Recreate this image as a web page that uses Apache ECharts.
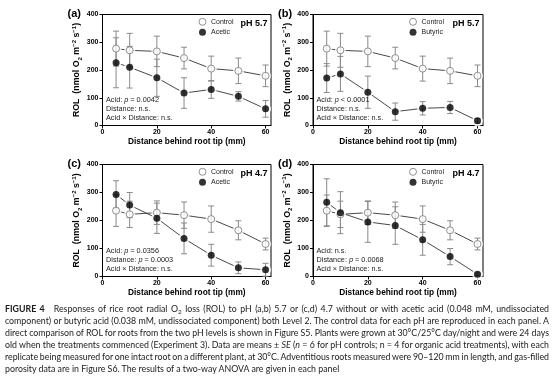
<!DOCTYPE html>
<html><head><meta charset="utf-8">
<script src="https://cdn.jsdelivr.net/npm/echarts@6/dist/echarts.min.js"></script>
<style>
html,body{margin:0;padding:0;background:#fff;}
#chart{position:absolute;left:0;top:0;width:554px;height:388px;}
#cap{position:absolute;left:5px;top:303px;width:544px;font-family:Lato,'Open Sans',sans-serif;font-size:8.8px;line-height:12px;color:#1a1a1a;}
#cap .ln{white-space:nowrap;height:12px;}
#cap .ln span.t{display:inline-block;white-space:nowrap;}
#cap sub{font-size:6.3px;vertical-align:-1.5px;line-height:0;}
#cap b{font-weight:700;}
</style></head><body>
<div id="chart"></div>
<div id="cap">
<div class="ln"><span class="t"><b>FIGURE 4</b><span style="display:inline-block;width:9px"></span>Responses of rice root radial O<sub>2</sub> loss (ROL) to pH (a,b) 5.7 or (c,d) 4.7 without or with acetic acid (0.048 mM, undissociated</span></div>
<div class="ln"><span class="t">component) or butyric acid (0.038 mM, undissociated component) both Level 2. The control data for each pH are reproduced in each panel. A</span></div>
<div class="ln"><span class="t">direct comparison of ROL for roots from the two pH levels is shown in Figure S5. Plants were grown at 30°C/25°C day/night and were 24 days</span></div>
<div class="ln"><span class="t">old when the treatments commenced (Experiment 3). Data are means ± <i>SE</i> (<i>n</i> = 6 for pH controls; n = 4 for organic acid treatments), with each</span></div>
<div class="ln"><span class="t">replicate being measured for one intact root on a different plant, at 30°C. Adventitious roots measured were 90–120 mm in length, and gas-filled</span></div>
<div class="ln last"><span class="t">porosity data are in Figure S6. The results of a two-way ANOVA are given in each panel</span></div>
</div>
<script>
// ---------- data ----------
const distances = [5, 10, 20, 30, 40, 50, 60];
const xTicks = [0, 20, 40, 60];
const yTicks = [0, 100, 200, 300, 400];

const control57   = [277, 271, 267, 243, 205, 197, 179];
const control57SE = [63, 61, 55, 39, 45, 46, 39];
const acetic57    = [226, 210, 172, 117, 130, 105, 60];
const acetic57SE  = [90, 75, 67, 55, 32, 17, 30];
const butyric57   = [171, 186, 120, 50, 62, 65, 17];
const butyric57SE = [52, 63, 58, 31, 24, 22, 8];

const control47   = [235, 222, 228, 219, 205, 165, 116];
const control47SE = [56, 47, 42, 47, 47, 34, 21];
const acetic47    = [293, 255, 208, 136, 76, 31, 24];
const acetic47SE  = [49, 45, 54, 55, 39, 21, 23];
const butyric47   = [265, 228, 195, 182, 131, 71, 8];
const butyric47SE = [84, 75, 73, 67, 55, 29, 5];

const panelLabels = ['(a)', '(b)', '(c)', '(d)'];
const phLabels = ['pH 5.7', 'pH 5.7', 'pH 4.7', 'pH 4.7'];
const treatNames = ['Acetic', 'Butyric', 'Acetic', 'Butyric'];
const statsA = ['Acid: {i|p} = 0.0042', 'Distance: n.s.', 'Acid × Distance: n.s.'];
const statsB = ['Acid: {i|p} < 0.0001', 'Distance: n.s.', 'Acid × Distance: n.s.'];
const statsC = ['Acid: {i|p} = 0.0356', 'Distance: {i|p} = 0.0003', 'Acid × Distance: n.s.'];
const statsD = ['Acid: n.s.', 'Distance: {i|p} = 0.0068', 'Acid × Distance: n.s.'];
const xTitle = 'Distance behind root tip (mm)';

// ---------- layout ----------
const F = 'Liberation Sans, Arial, Helvetica, sans-serif';
const grids = [
  {left: 102.5, top: 14.5, width: 168.5, height: 111},
  {left: 313, top: 14.5, width: 170, height: 111},
  {left: 102.5, top: 164.5, width: 168.5, height: 112},
  {left: 313, top: 164.5, width: 170, height: 112}
];
const panels = [
  {ctrl: control57, ctrlSE: control57SE, trt: acetic57, trtSE: acetic57SE, stats: statsA},
  {ctrl: control57, ctrlSE: control57SE, trt: butyric57, trtSE: butyric57SE, stats: statsB},
  {ctrl: control47, ctrlSE: control47SE, trt: acetic47, trtSE: acetic47SE, stats: statsC},
  {ctrl: control47, ctrlSE: control47SE, trt: butyric47, trtSE: butyric47SE, stats: statsD}
];

function errSeries(i, vals, ses) {
  return {
    type: 'custom', xAxisIndex: i, yAxisIndex: i, z: 3, silent: true, clip: false,
    data: distances.map((d, k) => [d, vals[k] - ses[k], vals[k] + ses[k]]),
    encode: {x: 0, y: [1, 2]},
    renderItem(params, api) {
      const x = api.value(0);
      const pLo = api.coord([x, api.value(1)]);
      const pHi = api.coord([x, api.value(2)]);
      const w = 3;
      const st = {stroke: '#8a8a8a', lineWidth: 1};
      return {type: 'group', children: [
        {type: 'line', shape: {x1: pLo[0], y1: pLo[1], x2: pHi[0], y2: pHi[1]}, style: st},
        {type: 'line', shape: {x1: pLo[0] - w, y1: pLo[1], x2: pLo[0] + w, y2: pLo[1]}, style: st},
        {type: 'line', shape: {x1: pHi[0] - w, y1: pHi[1], x2: pHi[0] + w, y2: pHi[1]}, style: st}
      ]};
    }
  };
}

const option = {
  animation: false,
  backgroundColor: '#fff',
  grid: grids.map(g => Object.assign({show: true, borderColor: '#000', borderWidth: 1, backgroundColor: 'transparent', containLabel: false}, g)),
  xAxis: grids.map((g, i) => ({
    type: 'value', gridIndex: i, min: 0, max: 62, interval: 20,
    axisLine: {show: true, lineStyle: {color: '#000', width: 1}},
    axisTick: {show: true, length: 3, inside: false, customValues: xTicks, lineStyle: {color: '#000'}},
    axisLabel: {customValues: xTicks, fontSize: 7, fontWeight: 'bold', fontFamily: F, color: '#000', margin: 3},
    splitLine: {show: false},
    name: xTitle, nameLocation: 'middle', nameGap: 12,
    nameTextStyle: {fontSize: 8.3, fontWeight: 'bold', fontFamily: F, color: '#000'}
  })),
  yAxis: grids.map((g, i) => ({
    type: 'value', gridIndex: i, min: 0, max: 400, interval: 100,
    axisLine: {show: true, lineStyle: {color: '#000', width: 1}},
    axisTick: {show: true, length: 3, inside: false, customValues: yTicks, lineStyle: {color: '#000'}},
    axisLabel: {customValues: yTicks, fontSize: 7, fontWeight: 'bold', fontFamily: F, color: '#000', margin: 4},
    splitLine: {show: false},
    name: '{b|ROL  (nmol O}{sub|2}{b| m}{sup|−2}{b| s}{sup|−1}{b|)}',
    nameLocation: 'middle', nameGap: 15, nameRotate: 90,
    nameTextStyle: {
      fontFamily: F, color: '#000',
      rich: {
        b: {fontSize: 8.8, fontWeight: 'bold', fontFamily: F, color: '#000', lineHeight: 12},
        sub: {fontSize: 6, fontWeight: 'bold', fontFamily: F, color: '#000', lineHeight: 6, verticalAlign: 'bottom'},
        sup: {fontSize: 6, fontWeight: 'bold', fontFamily: F, color: '#000', lineHeight: 6, verticalAlign: 'top'}
      }
    }
  })),
  legend: grids.map((g, i) => ({
    orient: 'vertical', left: g.left + 96, top: g.top + 3.3, padding: 0,
    itemWidth: 7, itemHeight: 7, itemGap: 3, selectedMode: false,
    textStyle: {fontSize: 7, fontFamily: F, color: '#222', lineHeight: 7, fontWeight: 'normal'},
    data: [
      {name: 'Control', icon: 'circle', itemStyle: {color: '#fff', borderColor: '#777', borderWidth: 1}},
      {name: treatNames[i], icon: 'circle', itemStyle: {color: '#000', borderWidth: 0}}
    ]
  })),
  title: [].concat(
    grids.map((g, i) => ({
      text: panelLabels[i], left: g.left - 35, top: g.top - 7, padding: 0,
      textStyle: {fontSize: 11, fontWeight: 'bold', fontFamily: F, color: '#000', lineHeight: 12}
    })),
    grids.map((g, i) => ({
      text: phLabels[i], right: 554 - (g.left + g.width - 3.5), top: g.top + 4.5, padding: 0,
      textStyle: {fontSize: 9, fontWeight: 'bold', fontFamily: F, color: '#000', lineHeight: 10}
    })),
    grids.map((g, i) => ({
      text: panels[i].stats.join('\n'), left: g.left + 3.5, top: g.top + g.height - 30, padding: 0,
      textStyle: {fontSize: 7.3, fontFamily: F, color: '#222', lineHeight: 8.8, fontWeight: 'normal',
        rich: {i: {fontSize: 7.3, fontFamily: F, fontStyle: 'italic', fontWeight: 'normal', color: '#222', lineHeight: 8.8}}}
    }))
  ),
  series: []
};

panels.forEach((p, i) => {
  const ctrlData = distances.map((d, k) => [d, p.ctrl[k]]);
  const trtData = distances.map((d, k) => [d, p.trt[k]]);
  [ctrlData, trtData].forEach(data => {
    option.series.push({type: 'line', xAxisIndex: i, yAxisIndex: i, data, symbol: 'none', silent: true, z: 1,
      lineStyle: {color: '#333', width: 0.9}});
  });
  [ctrlData, trtData].forEach(data => {
    option.series.push({type: 'scatter', xAxisIndex: i, yAxisIndex: i, data, symbol: 'circle', symbolSize: 11, silent: true, z: 2,
      itemStyle: {color: '#fff'}});
  });
  option.series.push(errSeries(i, p.ctrl, p.ctrlSE));
  option.series.push(errSeries(i, p.trt, p.trtSE));
  option.series.push({type: 'scatter', name: 'Control', xAxisIndex: i, yAxisIndex: i, data: ctrlData, symbol: 'circle', symbolSize: 7, z: 4,
    itemStyle: {color: '#fff', borderColor: '#777', borderWidth: 1}});
  option.series.push({type: 'scatter', name: treatNames[i], xAxisIndex: i, yAxisIndex: i, data: trtData, symbol: 'circle', symbolSize: 7, z: 4,
    itemStyle: {color: '#000'}});
});

const chart = echarts.init(document.getElementById('chart'), null, {renderer: 'canvas'});
chart.setOption(option);

// justify caption lines
function justify() {
  document.querySelectorAll('#cap .ln').forEach(el => {
    if (el.classList.contains('last')) return;
    const span = el.querySelector('span.t');
    span.style.wordSpacing = '0px';
    const w = span.getBoundingClientRect().width;
    const spaces = (span.textContent.match(/ /g) || []).length;
    if (spaces) span.style.wordSpacing = ((544 - w) / spaces) + 'px';
  });
}
justify();
if (document.fonts && document.fonts.ready) document.fonts.ready.then(justify);
</script>
</body></html>
